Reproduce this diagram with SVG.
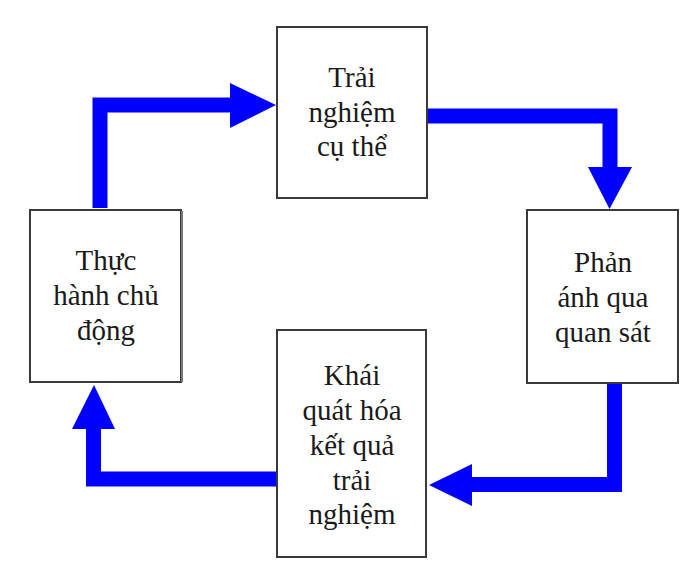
<svg xmlns="http://www.w3.org/2000/svg" width="700" height="574" viewBox="0 0 700 574">
<defs>
<style>
.box{fill:#fff;stroke:#3a3a3a;stroke-width:2}
.lbl{font-family:"Liberation Serif","Times New Roman",serif;font-size:29px;fill:#1a1a1a;text-anchor:middle}
.shaft{fill:none;stroke:#0000ff;stroke-width:15;stroke-linejoin:miter;stroke-linecap:butt}
.head{fill:#0000ff}
</style>
</defs>
<rect width="700" height="574" fill="#fff"/>
<g id="connectors">
<g id="c1"><path class="shaft" d="M100,208 V105 H231"/><polygon class="head" points="230,83 276,105 230,128"/></g>
<g id="c2"><path class="shaft" d="M428,116 H610 V168"/><polygon class="head" points="588,167 632,167 609.5,209"/></g>
<g id="c3"><path class="shaft" d="M614.5,383 V484.5 H471"/><polygon class="head" points="472,464 472,506 429,485"/></g>
<g id="c4"><path class="shaft" d="M277,479 H93.5 V428"/><polygon class="head" points="72,429 115,429 94,385"/></g>
</g>
<g id="n1">
<rect class="box" x="277" y="27" width="150" height="171"/>
<text class="lbl" x="352" y="87">Trải</text>
<text class="lbl" x="352" y="122">nghiệm</text>
<text class="lbl" x="352" y="156">cụ thể</text>
</g>
<g id="n2">
<rect class="box" x="527" y="210" width="151" height="173"/>
<text class="lbl" x="603" y="272">Phản</text>
<text class="lbl" x="603" y="307">ánh qua</text>
<text class="lbl" x="603" y="342">quan sát</text>
</g>
<g id="n3">
<rect class="box" x="277" y="330" width="149" height="227"/>
<text class="lbl" x="352" y="385">Khái</text>
<text class="lbl" x="352" y="420">quát hóa</text>
<text class="lbl" x="352" y="455">kết quả</text>
<text class="lbl" x="352" y="490">trải</text>
<text class="lbl" x="352" y="524">nghiệm</text>
</g>
<g id="n4">
<rect class="box" x="30" y="210" width="151" height="172"/>
<line x1="182" y1="211" x2="182" y2="382" stroke="#777" stroke-width="2"/>
<text class="lbl" x="106" y="270">Thực</text>
<text class="lbl" x="106" y="305">hành chủ</text>
<text class="lbl" x="106" y="340">động</text>
</g>
</svg>
